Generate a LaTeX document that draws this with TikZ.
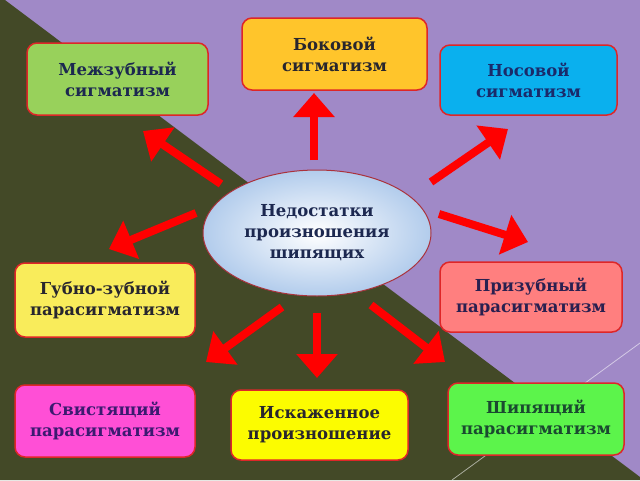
\documentclass[tikz,border=0pt]{standalone}
\usepackage{fontspec}
\setmainfont{DejaVu Serif}
\usetikzlibrary{arrows.meta,shapes.geometric}

\definecolor{bgpurple}{RGB}{160,137,199}
\definecolor{bgdark}{RGB}{67,73,39}
\definecolor{boxred}{RGB}{222,38,40}
\definecolor{arrred}{RGB}{255,0,0}
\definecolor{ellblue}{RGB}{178,204,236}
\definecolor{ellred}{RGB}{170,50,60}
\definecolor{cMeg}{RGB}{152,209,91}
\definecolor{cBok}{RGB}{255,197,43}
\definecolor{cNos}{RGB}{10,176,238}
\definecolor{cGub}{RGB}{249,236,91}
\definecolor{cSvi}{RGB}{255,79,214}
\definecolor{cIsk}{RGB}{252,252,0}
\definecolor{cPri}{RGB}{255,127,127}
\definecolor{cShi}{RGB}{92,244,75}
\definecolor{tNavy}{RGB}{28,40,80}
\definecolor{tDark}{RGB}{40,38,46}
\definecolor{tBlue}{RGB}{26,42,106}
\definecolor{tPurple}{RGB}{60,26,112}
\definecolor{tPlum}{RGB}{42,32,80}
\definecolor{tGreen}{RGB}{26,74,48}

\begin{document}
\begin{tikzpicture}[x=1pt,y=-1pt,
  txt/.style={font=\bfseries\fontsize{16.5}{21}\selectfont},
  box/.style={draw=boxred, line width=1.5pt, rounded corners=10pt,
    align=center, inner sep=0pt, txt},
  arr/.style={draw=arrred, line width=8pt,
    -{Triangle[width=40pt,length=24pt]}}
]
\useasboundingbox (0,0) rectangle (640,480);
% background
\fill[bgpurple] (0,0) rectangle (640,480);
\fill[bgdark] (0,0) -- (5,0) -- (640,477) -- (640,480) -- (0,480) -- cycle;
\draw[white, opacity=0.55, line width=0.8pt] (452,480) -- (640,343);

% centre ellipse
\node[ellipse, draw=ellred, line width=1pt, inner color=white, outer color=ellblue,
  minimum width=228pt, minimum height=126pt, inner sep=0pt, align=center,
  text=tNavy, txt]
  (ell) at (317,233) {Недостатки\\произношения\\шипящих};

% boxes
\node[box, fill=cMeg, text=tNavy, minimum width=181pt, minimum height=72pt]
  (meg) at (117.5,79) {Межзубный\\сигматизм};
\node[box, fill=cBok, text=tDark, minimum width=185pt, minimum height=72pt]
  (bok) at (334.5,54) {Боковой\\сигматизм};
\node[box, fill=cNos, text=tBlue, minimum width=177pt, minimum height=70pt]
  (nos) at (528.5,80) {Носовой\\сигматизм};
\node[box, fill=cGub, text=tDark, minimum width=180pt, minimum height=74pt]
  (gub) at (105,300) {Губно-зубной\\парасигматизм};
\node[box, fill=cSvi, text=tPurple, minimum width=180pt, minimum height=72pt]
  (svi) at (105,421) {Свистящий\\парасигматизм};
\node[box, fill=cIsk, text=tDark, minimum width=177pt, minimum height=70pt]
  (isk) at (319.5,425) {Искаженное\\произношение};
\node[box, fill=cPri, text=tPlum, minimum width=182pt, minimum height=70pt]
  (pri) at (531,297) {Призубный\\парасигматизм};
\node[box, fill=cShi, text=tGreen, minimum width=176pt, minimum height=72pt]
  (shi) at (536,419) {Шипящий\\парасигматизм};

% arrow end points
\coordinate (sMeg) at (221,184);  \coordinate (eMeg) at (143,131);
\coordinate (sBok) at (314,160);  \coordinate (eBok) at (314,93);
\coordinate (sNos) at (431,182);  \coordinate (eNos) at (508,129);
\coordinate (sPri) at (439,214);  \coordinate (ePri) at (528,242);
\coordinate (sGub) at (196,213);  \coordinate (eGub) at (109,249);
\coordinate (sSvi) at (282,307);  \coordinate (eSvi) at (206,362);
\coordinate (sIsk) at (317,313);  \coordinate (eIsk) at (317,378);
\coordinate (sShi) at (371,305);  \coordinate (eShi) at (445,362);

\foreach \n in {Meg,Bok,Nos,Pri,Gub,Svi,Isk,Shi}
  \draw[arr] (s\n) -- (e\n);
\end{tikzpicture}
\end{document}
